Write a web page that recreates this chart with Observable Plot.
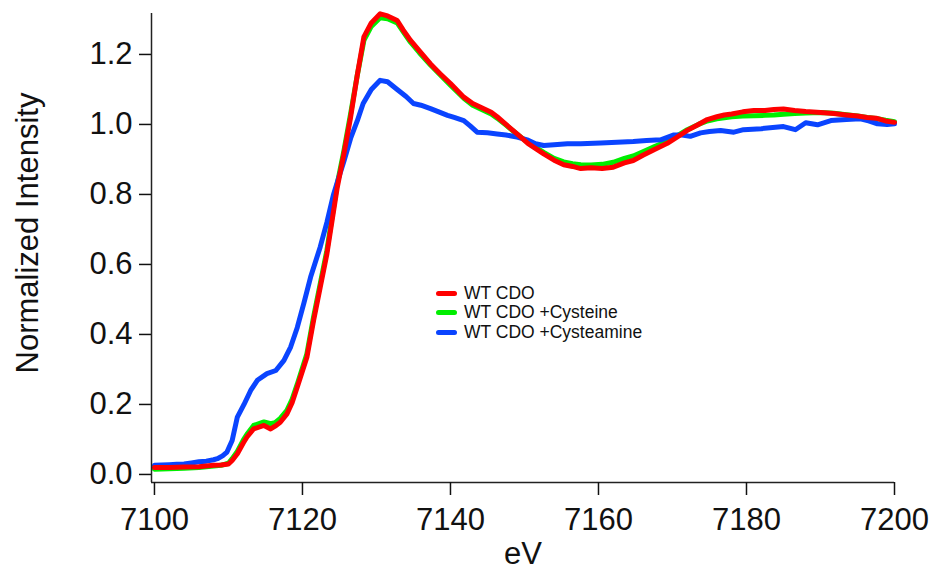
<!DOCTYPE html>
<html>
<head>
<meta charset="utf-8">
<script src="https://cdn.jsdelivr.net/npm/d3@7"></script>
<script src="https://cdn.jsdelivr.net/npm/@observablehq/plot@0.6"></script>
<style>
  html, body { margin: 0; padding: 0; background: #fff; }
  #wrap { position: relative; width: 932px; height: 571px; font-family: "Liberation Sans", Arial, sans-serif; }
  #legend { position: absolute; left: 436px; top: 284px; font-size: 17.5px; color: #111; line-height: 19.3px; }
  #legend .row { display: flex; align-items: center; white-space: nowrap; }
  #legend .sw { width: 21px; height: 5px; border-radius: 3px; margin-right: 7px; }
</style>
</head>
<body>
<div id="wrap"><div id="legend"></div></div>
<script>
// ---- data ----
const seriesNames = ["WT CDO", "WT CDO +Cysteine", "WT CDO +Cysteamine"];
const seriesColors = ["#ff0000", "#00ee00", "#0a44ff"];

const wtE = [7100,7102,7104,7106,7108,7109,7110,7110.5,7111.2,7112,7112.5,7113.4,7114.8,7115.7,7116.3,7117,7117.9,7118.6,7119.3,7120.6,7121.5,7122.4,7123.3,7124,7124.7,7125.6,7126.5,7127.4,7128.3,7129.3,7130.5,7131.5,7132.8,7133.6,7134.6,7135.8,7137.3,7138.6,7140,7141.8,7143,7144.5,7145.5,7146.3,7147.5,7149,7150.5,7152.6,7154,7155.3,7156.5,7157.6,7159,7160.5,7162,7163.5,7164.7,7166,7167.5,7169.3,7170.5,7172,7173.5,7174.7,7176,7177,7178,7179.5,7181,7182.5,7183.7,7185,7186.5,7188,7190,7191.8,7193.5,7195,7196.3,7197.5,7198.8,7200];
const wtI = [0.020,0.020,0.021,0.022,0.026,0.027,0.030,0.040,0.059,0.090,0.107,0.130,0.140,0.130,0.138,0.149,0.173,0.205,0.250,0.335,0.440,0.535,0.630,0.725,0.820,0.916,1.020,1.140,1.250,1.290,1.316,1.310,1.297,1.270,1.240,1.210,1.173,1.145,1.117,1.078,1.060,1.045,1.035,1.022,1.000,0.973,0.945,0.916,0.898,0.885,0.880,0.874,0.876,0.874,0.878,0.890,0.897,0.912,0.928,0.946,0.962,0.983,1.000,1.014,1.022,1.027,1.030,1.036,1.040,1.040,1.043,1.044,1.040,1.037,1.034,1.031,1.027,1.024,1.020,1.018,1.010,1.006];

const cysE = wtE;
const cysI = [0.015,0.016,0.018,0.020,0.024,0.026,0.032,0.045,0.066,0.098,0.115,0.140,0.150,0.145,0.148,0.160,0.183,0.215,0.258,0.345,0.450,0.545,0.640,0.735,0.830,0.925,1.030,1.140,1.240,1.280,1.305,1.302,1.290,1.265,1.235,1.205,1.170,1.142,1.112,1.075,1.055,1.040,1.030,1.018,0.998,0.972,0.948,0.920,0.903,0.893,0.888,0.885,0.884,0.886,0.892,0.903,0.910,0.922,0.936,0.952,0.966,0.985,1.000,1.010,1.016,1.019,1.022,1.024,1.025,1.026,1.027,1.029,1.031,1.033,1.034,1.032,1.028,1.024,1.020,1.017,1.012,1.008];

const camE = [7100,7101,7102,7103,7104,7105,7106,7107,7108,7108.5,7109.2,7109.8,7110.5,7111.2,7112.1,7113,7113.9,7115.2,7116.4,7117.5,7118.4,7119.3,7120.2,7121.1,7122.4,7123.3,7124.2,7125,7125.6,7126.5,7127.4,7128.2,7129.3,7130.5,7131.5,7132.8,7134,7135,7136,7137.3,7138.5,7139.6,7140.5,7141.8,7142.7,7143.6,7145,7146.3,7147.5,7149,7150.5,7151.5,7152.6,7154,7155.8,7157.6,7160.3,7162.5,7164.7,7166.5,7168.4,7170.2,7171.3,7172.4,7173.8,7175,7176.5,7178.3,7179.6,7182,7185,7186.6,7188,7189.6,7191.4,7193.5,7195.4,7196.5,7197.7,7199,7200];
const camI = [0.026,0.027,0.028,0.029,0.030,0.033,0.036,0.038,0.042,0.045,0.053,0.064,0.097,0.164,0.200,0.240,0.269,0.288,0.297,0.326,0.364,0.420,0.490,0.564,0.650,0.720,0.800,0.855,0.895,0.960,1.010,1.060,1.100,1.126,1.122,1.100,1.080,1.060,1.055,1.045,1.035,1.026,1.020,1.011,0.995,0.978,0.976,0.973,0.970,0.964,0.955,0.945,0.940,0.942,0.945,0.945,0.947,0.949,0.951,0.954,0.956,0.970,0.970,0.966,0.976,0.980,0.983,0.978,0.985,0.988,0.994,0.985,1.005,0.999,1.011,1.014,1.016,1.010,1.002,1.000,1.002];

const xTicks = [7100, 7120, 7140, 7160, 7180, 7200];
const yTicks = [0.0, 0.2, 0.4, 0.6, 0.8, 1.0, 1.2];

// ---- build tidy table ----
const pack = (E, I, name) => E.map((e, i) => ({ eV: e, v: I[i], s: name }));
const drawOrder = [
  pack(cysE, cysI, seriesNames[1]),
  pack(camE, camI, seriesNames[2]),
  pack(wtE, wtI, seriesNames[0])
];

const xDomain = [7099.6, 7200];
const yDomain = [-0.023, 1.317];
const colorScale = { domain: seriesNames, range: seriesColors };

const chart = Plot.plot({
  width: 932,
  height: 571,
  marginLeft: 151,
  marginRight: 38,
  marginTop: 13,
  marginBottom: 89,
  style: { fontFamily: "Liberation Sans, Arial, sans-serif", fontSize: "31px", color: "#111", background: "white" },
  x: { domain: xDomain, label: null },
  y: { domain: yDomain, label: null },
  color: colorScale,
  marks: [
    ...drawOrder.map(d => Plot.line(d, { x: "eV", y: "v", stroke: "s", strokeWidth: 5, strokeLinejoin: "round", strokeLinecap: "round" })),
    Plot.ruleX([xDomain[0]], { stroke: "#222", strokeWidth: 1.5 }),
    Plot.ruleY([yDomain[0]], { stroke: "#222", strokeWidth: 1.5 }),
    Plot.axisX({ ticks: xTicks, tickSize: 13, tickPadding: 12, tickFormat: d => String(d), label: null, strokeWidth: 1.5, fontSize: 31 }),
    Plot.axisY({ ticks: yTicks, tickSize: 12, tickPadding: 7, tickFormat: d3.format(".1f"), label: null, strokeWidth: 1.5, fontSize: 31 }),
    Plot.text(["eV"], { frameAnchor: "bottom", dy: 81, fontSize: 31, textAnchor: "middle" }),
    Plot.text(["Normalized Intensity"], { frameAnchor: "left", dx: -123, dy: -15, rotate: -90, fontSize: 31, textAnchor: "middle" })
  ]
});
const wrap = document.getElementById("wrap");
wrap.insertBefore(chart, wrap.firstChild);

const legend = document.getElementById("legend");
seriesNames.forEach((n, i) => {
  const row = document.createElement("div");
  row.className = "row";
  const sw = document.createElement("span");
  sw.className = "sw";
  sw.style.background = seriesColors[i];
  const t = document.createElement("span");
  t.textContent = n;
  row.appendChild(sw); row.appendChild(t);
  legend.appendChild(row);
});
</script>
</body>
</html>
